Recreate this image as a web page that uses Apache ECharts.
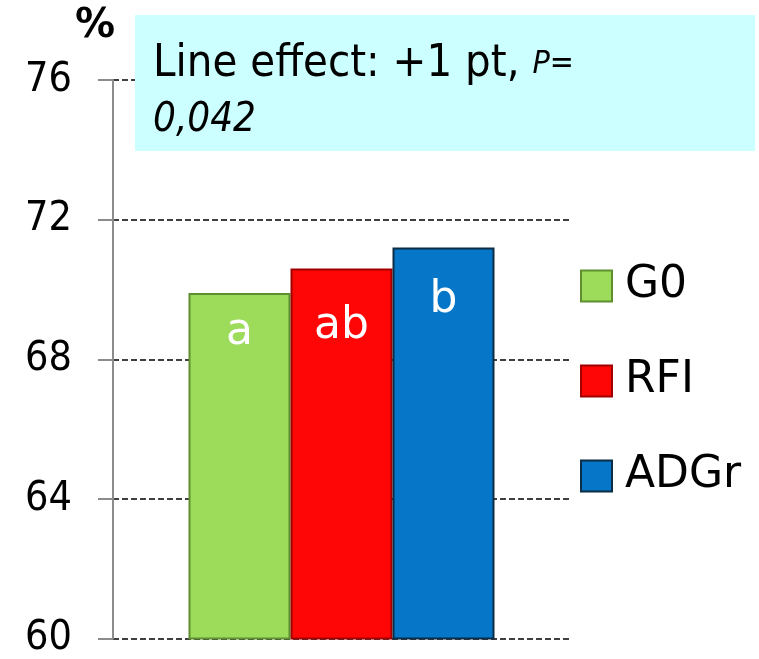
<!DOCTYPE html>
<html lang="en">
<head>
    <meta charset="UTF-8">
    <title>Line effect</title>
    <script src="https://cdn.jsdelivr.net/npm/echarts@6/dist/echarts.min.js"></script>
    <style>
        html, body { margin: 0; padding: 0; background: #fff; }
        #main { width: 759px; height: 659px; }
    </style>
</head>
<body>
<div id="main"></div>
<script>
    // data
    var groups = ['G0', 'RFI', 'ADGr'];
    var values = [69.9, 70.6, 71.2];
    var letters = ['a', 'ab', 'b'];
    var yTicks = [60, 64, 68, 72, 76];

    var fills = ['#9ddb5b', '#ff0606', '#0676c9'];
    var edges = ['#5f8f30', '#a00000', '#0b2d45'];
    var labelDist = [18, 36, 31];

    var cond = '"DejaVu Sans Condensed", "DejaVu Sans", sans-serif';

    var chart = echarts.init(document.getElementById('main'));

    var series = [];
    for (let i = 0; i < groups.length; i++) {
        series.push({
            name: groups[i],
            type: 'bar',
            data: [values[i]],
            barWidth: 102,
            barGap: '0%',
            itemStyle: {
                color: fills[i],
                borderColor: edges[i],
                borderWidth: 2
            },
            label: {
                show: true,
                position: 'insideTop',
                distance: labelDist[i],
                formatter: letters[i],
                color: '#fff',
                fontFamily: 'DejaVu Sans',
                fontSize: 44
            }
        });
    }

    chart.setOption({
        animation: false,
        grid: { left: 113, right: 189, top: 80, bottom: 18, containLabel: false },
        legend: {
            orient: 'vertical',
            left: 580,
            top: 264,
            padding: 0,
            itemWidth: 31,
            itemHeight: 31,
            itemGap: 51,
            icon: 'rect',
            data: groups,
            itemStyle: { borderWidth: 2 },
            textStyle: {
                fontFamily: 'DejaVu Sans',
                fontSize: 44,
                color: '#000',
                padding: [0, 0, 0, 8]
            }
        },
        xAxis: {
            type: 'category',
            data: [''],
            show: false
        },
        yAxis: {
            type: 'value',
            min: yTicks[0],
            max: yTicks[yTicks.length - 1],
            interval: 4,
            name: '%',
            nameLocation: 'end',
            nameGap: 33,
            nameTextStyle: {
                fontFamily: 'DejaVu Sans',
                fontWeight: 'bold',
                fontSize: 40,
                color: '#000',
                padding: [0, 36, 0, 0]
            },
            axisLine: { show: true, lineStyle: { color: '#8c8c8c', width: 2 } },
            axisTick: { show: true, length: 15, lineStyle: { color: '#8c8c8c', width: 2 } },
            axisLabel: {
                margin: 41,
                fontFamily: cond,
                fontSize: 41,
                color: '#000'
            },
            splitLine: {
                show: true,
                lineStyle: { color: '#000', type: [6, 3], width: 1.5 }
            }
        },
        graphic: [
            {
                type: 'rect',
                z: 100,
                shape: { x: 135, y: 15, width: 620, height: 136 },
                style: { fill: '#ccffff' }
            },
            {
                type: 'text',
                z: 101,
                left: 153,
                top: 42,
                style: {
                    text: '{a|Line effect: +1 pt, }{p|P=}\n{b|0,042}',
                    fill: '#000',
                    rich: {
                        a: { fontFamily: cond, fontSize: 45, lineHeight: 50, fill: '#000' },
                        p: { fontFamily: cond, fontSize: 32, fontStyle: 'italic', lineHeight: 50, fill: '#000' },
                        b: { fontFamily: cond, fontSize: 40, fontStyle: 'italic', lineHeight: 62, fill: '#000' }
                    }
                }
            }
        ],
        series: series
    });
</script>
</body>
</html>
